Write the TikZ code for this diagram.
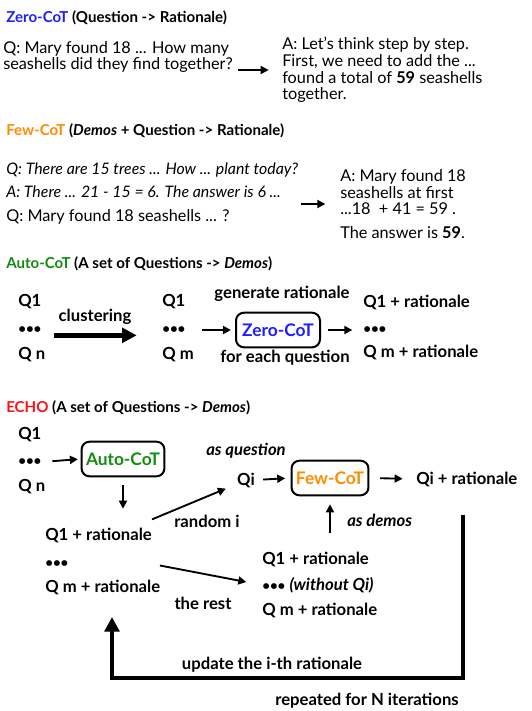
\documentclass[tikz,border=0pt]{standalone}
\usepackage{fontspec}
\setmainfont{Lato}
\usetikzlibrary{arrows.meta,positioning,calc}
\definecolor{zeroblue}{RGB}{30,30,255}
\definecolor{fewor}{RGB}{255,140,0}
\definecolor{autogr}{RGB}{20,140,20}
\definecolor{echored}{RGB}{250,20,20}
\newcommand{\tdots}{{\fontsize{10}{10}\selectfont\textbullet\textbullet\textbullet}}

\begin{document}
\begin{tikzpicture}[x=0.75pt, y=-0.75pt,
        txt/.style={anchor=west, inner sep=0pt, align=left, font=\fontsize{12.2}{12.5}\selectfont},
        lbl/.style={inner sep=0pt, font=\fontsize{12.5}{13}\selectfont\bfseries},
        col/.style={lbl, anchor=west},
        title/.style={col, font=\fontsize{11.3}{13}\selectfont\bfseries},
        box/.style={draw, rounded corners=6pt, line width=1.5pt, minimum height=26pt, font=\fontsize{13}{14}\selectfont\bfseries},
        arrow/.style={-{Triangle[length=6pt,width=6pt]}, line width=1.4pt},
        bigarrow/.style={-{Triangle[length=11pt,width=11pt]}, line width=3.5pt}
    ]
    \useasboundingbox (0,0) rectangle (532,711);
    \node[title] (zerotitle) at (6,18) {\textcolor{zeroblue}{Zero-CoT} (Question -> Rationale)};
    \node[txt] (zeroq) at (3,57) {Q: Mary found 18 ... How many\\seashells did they find together?};
    \node[txt] (zeroa) at (282,70) {A: Let's think step by step.\\First, we need to add the ...\\found a total of \textbf{59} seashells\\together.};
    \draw[arrow, shorten <=4pt, shorten >=10pt] (zeroq.east |- zeroa.west) -- (zeroa.west);

    \node[title] (fewtitle) at (6,131) {\textcolor{fewor}{Few-CoT} (\textit{Demos} + Question -> Rationale)};
    \node[txt, font=\fontsize{11.9}{12.4}\selectfont] (fewq) at (6,193.5) {\textit{Q: There are 15 trees ... How ... plant today?}\\[5pt]\textit{A: There ... 21 - 15 = 6. The answer is 6 ...}\\[5pt]{\fontsize{12.2}{12.4}\selectfont Q: Mary found 18 seashells ... ?}};
    \node[txt] (fewa) at (340,204) {A: Mary found 18\\seashells at first\\...18 \ + 41 = 59 .\\[5pt]The answer is \textbf{59}.};
    \draw[arrow, shorten <=2pt, shorten >=11pt] (fewq.east |- fewa.west) -- (fewa.west);

    \node[title] (autotitle) at (6,264) {\textcolor{autogr}{Auto-CoT} (A set of Questions -> \textit{Demos})};
    \node[col] (aq1) at (18,302) {Q1};
    \node[col] (adots) at (18,330) {\tdots};
    \node[col] (aqn) at (18,355) {Q n};
    \node[col] (bq1) at (162,302) {Q1};
    \node[col] (bdots) at (162,330) {\tdots};
    \node[col] (bqm) at (162,355) {Q m};
    \node[box, text=zeroblue, minimum width=63pt] (zerobox) at (278,330) {Zero-CoT};
    \node[lbl] (cluster) at (95,317) {clustering};
    \node[lbl] (gen) at (282,294) {generate rationale};
    \node[lbl] (each) at (285,358) {for each question};
    \node[col] (cq1) at (363,302) {Q1 + rationale};
    \node[col] (cdots) at (363,330) {\tdots};
    \node[col] (cqm) at (363,352) {Q m + rationale};
    \draw[bigarrow, shorten <=9pt, shorten >=19pt] ([yshift=-4pt]adots.east) -- ([yshift=-4pt]bdots.west);
    \draw[arrow, shorten <=12pt, shorten >=3pt] (bdots.east) -- (zerobox.west);
    \draw[arrow, shorten <=5pt, shorten >=8pt] (zerobox.east) -- (cdots.west);

    \node[title] (echotitle) at (6,408) {\textcolor{echored}{ECHO} (A set of Questions -> \textit{Demos})};
    \node[col] (eq1) at (18,435) {Q1};
    \node[col] (edots) at (18,462) {\tdots};
    \node[col] (eqn) at (18,487) {Q n};
    \node[box, text=autogr, minimum width=62pt] (autobox) at (123,459) {Auto-CoT};
    \node[col] (rq1) at (45,535) {Q1 + rationale};
    \node[col] (rdots) at (45,564) {\tdots};
    \node[col] (rqm) at (45,587) {Q m + rationale};
    \node[lbl, font=\fontsize{12.5}{13}\selectfont\bfseries\itshape] (asq) at (246,451) {as question};
    \node[lbl] (qi) at (246,480) {Qi};
    \node[box, text=fewor, minimum width=55pt] (fewbox) at (330,478) {Few-CoT};
    \node[col] (qir) at (416,479) {Qi + rationale};
    \node[col, font=\fontsize{12.5}{13}\selectfont\bfseries\itshape] (asdemos) at (347,520) {as demos};
    \node[lbl] (randi) at (207,521) {random i};
    \node[col] (sq1) at (262,559) {Q1 + rationale};
    \node[col] (sdots) at (262,585) {\tdots\ \textit{(without Qi)}};
    \node[col] (sqm) at (262,610) {Q m + rationale};
    \node[lbl] (rest) at (203,603) {the rest};
    \node[lbl] (update) at (272,665) {update the i-th rationale};
    \node[lbl] (repeat) at (367,701) {repeated for N iterations};
    \coordinate (loopstart) at (463,515);
    \coordinate (loopend) at (112,617);
    \draw[arrow, shorten <=8pt, shorten >=2pt] (edots.east) -- (autobox.west);
    \draw[arrow, shorten <=6pt, shorten >=14pt] (autobox.south) -- (autobox.south |- rq1.north);
    \draw[arrow, shorten >=9pt] ([shift={(0,-8)}]rq1.north east) -- ([shift={(0,4)}]qi.west);
    \draw[arrow, shorten <=6pt, shorten >=4pt] (qi.east) -- (fewbox.west);
    \draw[arrow, shorten <=8pt, shorten >=10pt] (fewbox.east) -- (qir.west);
    \draw[arrow, shorten <=14pt, shorten >=6pt] (fewbox.south |- sq1.north) -- (fewbox.south);
    \draw[arrow, shorten <=6pt, shorten >=12pt] (rq1.east |- rdots) -- (sdots.west);
    \draw[bigarrow, line width=3pt] (loopstart) -- ++(0,163) -| (loopend);
\end{tikzpicture}
\end{document}
